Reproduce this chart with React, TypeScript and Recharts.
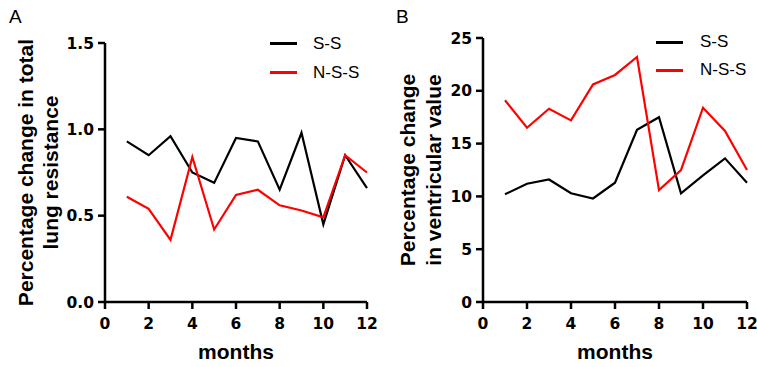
import React from "react";
import { LineChart, Line, XAxis, YAxis, Legend } from "recharts";

const months = [1, 2, 3, 4, 5, 6, 7, 8, 9, 10, 11, 12];
const monthTicks = [0, 2, 4, 6, 8, 10, 12];

// panel A - total lung resistance
const lungSS = [0.93, 0.85, 0.96, 0.75, 0.69, 0.95, 0.93, 0.65, 0.98, 0.45, 0.85, 0.66];
const lungNSS = [0.61, 0.54, 0.36, 0.84, 0.42, 0.62, 0.65, 0.56, 0.53, 0.49, 0.85, 0.75];
const lungTicks = [0, 0.5, 1.0, 1.5];

// panel B - ventricular value
const ventSS = [10.2, 11.2, 11.6, 10.3, 9.8, 11.3, 16.3, 17.5, 10.3, 12.0, 13.6, 11.3];
const ventNSS = [19.1, 16.5, 18.3, 17.2, 20.6, 21.5, 23.2, 10.6, 12.5, 18.4, 16.2, 12.5];
const ventTicks = [0, 5, 10, 15, 20, 25];

const seriesNames = ["S-S", "N-S-S"];
const seriesColors = ["#000000", "#ff0000"];

const lungData = months.map((m, i) => ({ month: m, ss: lungSS[i], nss: lungNSS[i] }));
const ventData = months.map((m, i) => ({ month: m, ss: ventSS[i], nss: ventNSS[i] }));

const tickStyle = {
    fill: "#000",
    fontFamily: "DejaVu Sans",
    fontWeight: "bold",
    fontSize: 15.5,
};

const YLabel = (props: any) => {
    const { viewBox, lines, xs } = props;
    if (!viewBox) return null;
    const cy = viewBox.y + viewBox.height / 2;
    return (
        <g>
            {lines.map((l: string, i: number) => (
                <text
                    key={i}
                    x={xs[i]}
                    y={cy}
                    transform={`rotate(-90 ${xs[i]} ${cy})`}
                    textAnchor="middle"
                    dominantBaseline="central"
                    fontFamily="Liberation Sans"
                    fontWeight="bold"
                    fontSize={21}
                    fill="#000"
                >
                    {l}
                </text>
            ))}
        </g>
    );
};

const LegendBox = ({ rowHeight, gap }: { rowHeight: number; gap: number }) => (
    <div style={{ fontFamily: "Liberation Sans", fontSize: 17, color: "#000" }}>
        {seriesNames.map((n, i) => (
            <div key={n} style={{ display: "flex", alignItems: "center", height: rowHeight }}>
                <span style={{ display: "inline-block", width: 27, height: 3, background: seriesColors[i], marginRight: gap }} />
                <span>{n}</span>
            </div>
        ))}
    </div>
);

type PanelProps = {
    data: { month: number; ss: number; nss: number }[];
    ticks: number[];
    fmt: (v: number) => string;
    labelLines: string[];
    labelXs: number[];
    width: number;
    right: number;
    top: number;
    legendLeft: number;
    legendTop: number;
    rowHeight: number;
    gap: number;
};

const Panel: React.FC<PanelProps> = (p) => {
    const max = p.ticks[p.ticks.length - 1];
    return (
        <LineChart width={p.width} height={367} data={p.data} margin={{ top: p.top, right: p.right, left: 0, bottom: 0 }}>
            <XAxis
                dataKey="month"
                type="number"
                domain={[0, 12]}
                ticks={monthTicks}
                height={65}
                tick={tickStyle}
                tickSize={7}
                tickMargin={9}
                axisLine={{ stroke: "#000", strokeWidth: 2.5 }}
                tickLine={{ stroke: "#000", strokeWidth: 2.5 }}
                label={{
                    value: "months",
                    position: "insideBottom",
                    offset: 8,
                    style: { fill: "#000", fontFamily: "Liberation Sans", fontWeight: "bold", fontSize: 21 },
                }}
            />
            <YAxis
                type="number"
                domain={[0, max]}
                ticks={p.ticks}
                tickFormatter={p.fmt}
                width={105}
                tick={tickStyle}
                tickSize={7}
                tickMargin={4}
                axisLine={{ stroke: "#000", strokeWidth: 2.5 }}
                tickLine={{ stroke: "#000", strokeWidth: 2.5 }}
                label={<YLabel lines={p.labelLines} xs={p.labelXs} />}
            />
            <Legend
                layout="vertical"
                align="center"
                verticalAlign="middle"
                content={() => <LegendBox rowHeight={p.rowHeight} gap={p.gap} />}
                wrapperStyle={{ position: "absolute", left: p.legendLeft, top: p.legendTop, width: "auto" }}
            />
            <Line type="linear" dataKey="ss" name={seriesNames[0]} stroke={seriesColors[0]} strokeWidth={2.2} dot={false} isAnimationActive={false} />
            <Line type="linear" dataKey="nss" name={seriesNames[1]} stroke={seriesColors[1]} strokeWidth={2.2} dot={false} isAnimationActive={false} />
        </LineChart>
    );
};

const panelLetter = (letter: string, left: number) => (
    <div style={{ position: "absolute", left, top: 7, fontFamily: "Liberation Sans", fontSize: 19, lineHeight: "19px", color: "#000" }}>
        {letter}
    </div>
);

export default function App() {
    return (
        <div style={{ position: "absolute", left: 0, top: 0, width: 757, height: 367, background: "#fff", overflow: "hidden" }}>
            <div style={{ position: "absolute", left: 0, top: 0 }}>
                <Panel
                    data={lungData}
                    ticks={lungTicks}
                    fmt={(v) => v.toFixed(1)}
                    labelLines={["Percentage change in total", "lung resistance"]}
                    labelXs={[25, 50]}
                    width={378}
                    right={11}
                    top={43}
                    legendLeft={270}
                    legendTop={29}
                    rowHeight={29}
                    gap={16}
                />
            </div>
            <div style={{ position: "absolute", left: 378, top: 0 }}>
                <Panel
                    data={ventData}
                    ticks={ventTicks}
                    fmt={(v) => String(v)}
                    labelLines={["Percentage change", "in ventricular value"]}
                    labelXs={[29, 55]}
                    width={379}
                    right={10}
                    top={38}
                    legendLeft={278}
                    legendTop={28}
                    rowHeight={28}
                    gap={17}
                />
            </div>
            {panelLetter("A", 9)}
            {panelLetter("B", 396)}
        </div>
    );
}
